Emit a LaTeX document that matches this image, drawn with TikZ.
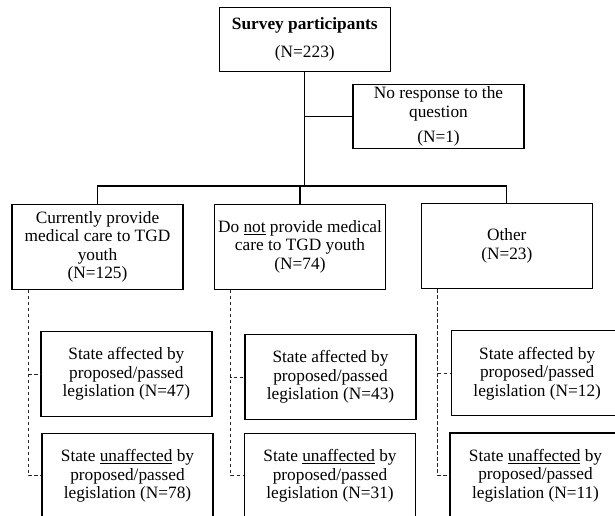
\documentclass[tikz,border=0pt]{standalone}
\usepackage{fontspec}
\setmainfont{Liberation Serif}
\usepackage{tikz}
\usetikzlibrary{positioning}

\begin{document}
\begin{tikzpicture}[x=1pt,y=-1pt,
	box/.style={draw,line width=1.2pt,align=center,inner sep=0pt,
		minimum width=171pt,minimum height=85pt,
		font=\fontsize{17.3}{18.5}\selectfont},
	topbox/.style={box,minimum height=64pt},
	link/.style={line width=1.2pt},
	sublink/.style={line width=1pt,black!85,dash pattern=on 3.5pt off 2.5pt}]
		\useasboundingbox (0,0) rectangle (615,516);
		\clip (0,0) rectangle (615,516);
		\def\dx{17pt}
		\node[topbox] (tot) at (304.8,39.5) {\textbf{Survey participants}\\[9pt](N=223)};
		\node[topbox] (nores) at (438.5,116.7) {No response to the\\question\\[7pt](N=1)};
		\node[box] (prov) at (97.5,246.7) {Currently provide\\medical care to TGD\\youth\\(N=125)};
		\node[box] (notprov) at (300,246.7) {Do \underline{not} provide medical\\care to TGD youth\\(N=74)};
		\node[box] (oth) at (506.8,246) {Other\\(N=23)};
		\node[box] (aff1) at (126.4,374.2) {State affected by\\proposed/passed\\legislation (N=47)};
		\node[box] (unaff1) at (127.5,475.8) {State \underline{unaffected} by\\proposed/passed\\legislation (N=78)};
		\node[box] (aff2) at (330.5,377.2) {State affected by\\proposed/passed\\legislation (N=43)};
		\node[box] (unaff2) at (330,475.8) {State \underline{unaffected} by\\proposed/passed\\legislation (N=31)};
		\node[box] (aff3) at (537.2,373.3) {State affected by\\proposed/passed\\legislation (N=12)};
		\node[box] (unaff3) at (535.5,475.5) {State \underline{unaffected} by\\proposed/passed\\legislation (N=11)};
		% tronco principale
		\coordinate (j) at (304.8,186);
		\draw[link] (tot.south) -- (j);
		\draw[link] (tot.south |- nores.west) -- (nores.west);
		\draw[link] (prov.north) -- (prov.north |- j) -- (oth.north |- j) -- (oth.north);
		\draw[link] (notprov.north) -- (notprov.north |- j);
		% sottogruppi
		\draw[sublink] ([xshift=\dx]prov.south west) |- (aff1.west);
		\draw[sublink] ([xshift=\dx]prov.south west) |- (unaff1.west);
		\draw[sublink] ([xshift=\dx]notprov.south west) |- (aff2.west);
		\draw[sublink] ([xshift=\dx]notprov.south west) |- (unaff2.west);
		\draw[sublink] ([xshift=\dx]oth.south west) |- (aff3.west);
		\draw[sublink] ([xshift=\dx]oth.south west) |- (unaff3.west);
	\end{tikzpicture}
\end{document}
